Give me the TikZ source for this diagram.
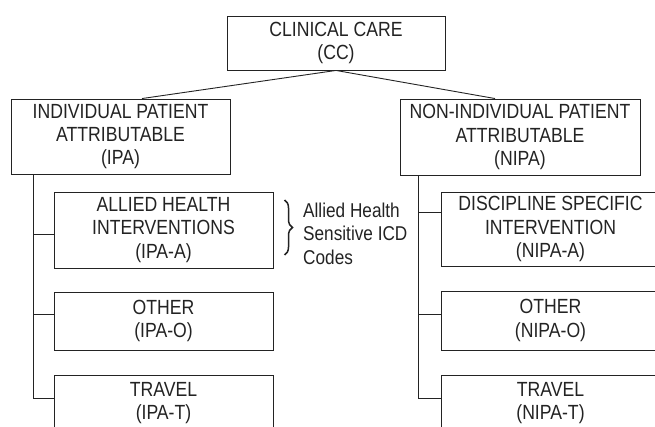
\documentclass[tikz,border=0pt]{standalone}
\usepackage{fontspec}
\setmainfont{Liberation Sans}[FakeStretch=0.86]
\usetikzlibrary{decorations.pathreplacing}
\definecolor{ink}{RGB}{35,35,35}
\begin{document}
\begin{tikzpicture}[x=1pt,y=-1pt,
  box/.style={draw=ink, text=ink, line width=0.9pt, minimum width=219pt, align=center, inner sep=0pt,
    font=\fontsize{20.5}{23.3}\selectfont},
  conn/.style={draw=ink, line width=0.9pt},
  bracestyle/.style={draw=ink, line width=1.5pt, decorate, decoration={brace, amplitude=8pt}},
  note/.style={text=ink, align=left, inner sep=0pt, font=\fontsize{20}{23.3}\selectfont}]
\useasboundingbox (0,0) rectangle (655,427);
\clip (0,0) rectangle (655,427);
\node[box, minimum width=218pt, minimum height=54pt] (cc) at (336,43) {CLINICAL CARE\\(CC)};
\node[box, minimum height=75pt] (ipa) at (120.5,136.5) {INDIVIDUAL PATIENT\\ATTRIBUTABLE\\(IPA)};
\node[box, minimum width=240pt, minimum height=76pt] (nipa) at (520,137) {NON-INDIVIDUAL PATIENT\\ATTRIBUTABLE\\(NIPA)};
\node[box, minimum height=76pt] (ipaa) at (163.5,230) {ALLIED HEALTH\\INTERVENTIONS\\(IPA-A)};
\node[box, minimum height=58pt] (ipao) at (163.5,321) {OTHER\\(IPA-O)};
\node[box, minimum height=56pt] (ipat) at (163.5,403) {TRAVEL\\(IPA-T)};
\node[box, minimum height=74pt] (nipaa) at (550.5,229) {DISCIPLINE SPECIFIC\\INTERVENTION\\(NIPA-A)};
\node[box, minimum height=59pt] (nipao) at (550.5,320.5) {OTHER\\(NIPA-O)};
\node[box, minimum height=56pt] (nipat) at (550.5,403) {TRAVEL\\(NIPA-T)};
\draw[conn] (cc.south) -- ([xshift=21.5pt]ipa.north);
\draw[conn] (cc.south) -- ([xshift=-25pt]nipa.north);
\coordinate (ipatr) at ([xshift=23pt]ipa.south west);
\coordinate (nipatr) at ([xshift=19pt]nipa.south west);
\draw[conn] (ipatr) |- ([yshift=-4pt]ipaa.west);
\draw[conn] (ipatr) |- ([yshift=7pt]ipao.west);
\draw[conn] (ipatr) |- ([yshift=5pt]ipat.west);
\draw[conn] (nipatr) |- ([yshift=17pt]nipaa.west);
\draw[conn] (nipatr) |- ([yshift=6.5pt]nipao.west);
\draw[conn] (nipatr) |- ([yshift=5pt]nipat.west);
\coordinate (bt) at (284.5,200);
\coordinate (bb) at (284.5,255);
\draw[bracestyle] (bt) -- (bb);
\node[note, anchor=north west] (sens) at (303,203) {Allied Health\\Sensitive ICD\\Codes};
\end{tikzpicture}
\end{document}
